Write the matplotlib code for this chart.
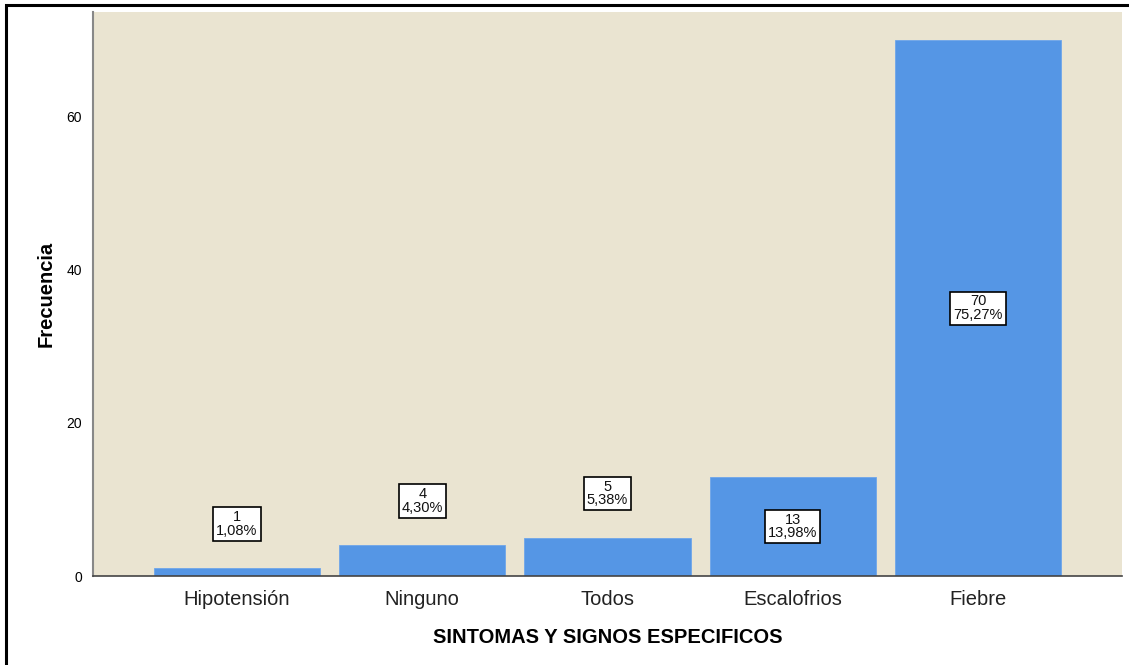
import matplotlib
matplotlib.use("Agg")
import matplotlib.pyplot as plt
from matplotlib.patches import Rectangle

# data
categorias = ["Hipotensión", "Ninguno", "Todos", "Escalofrios", "Fiebre"]
frecuencias = [1, 4, 5, 13, 70]
porcentajes = ["1,08%", "4,30%", "5,38%", "13,98%", "75,27%"]

plt.rcParams['font.family'] = ['Liberation Sans', 'DejaVu Sans']

fig = plt.figure(figsize=(11.29, 6.65), dpi=100)
ax = fig.add_axes([93 / 1129, 89 / 665, (1122 - 93) / 1129, (576 - 12) / 665])

ax.set_facecolor('#EAE4D1')
x = range(len(categorias))
ax.bar(x, frecuencias, width=0.896, color='#5596E5', edgecolor='#6FA6EA', linewidth=0.6, zorder=2)

# etiquetas de las barras
for i, (f, p) in enumerate(zip(frecuencias, porcentajes)):
    if f < 10:
        yl = f + 5.8
    else:
        yl = f / 2
    ax.text(i, yl, "%d\n%s" % (f, p), ha='center', va='center', fontsize=10.5,
            linespacing=0.95, zorder=3, color='#111111',
            bbox=dict(boxstyle='square,pad=0.2', facecolor='white', edgecolor='black', linewidth=1.2))

ax.set_xlim(-0.777, 4.777)
ax.set_ylim(0, 73.7)
ax.set_yticks([0, 20, 40, 60])
ax.set_xticks(list(x))
ax.set_xticklabels(categorias, fontsize=14.5, color='#222222')
ax.tick_params(axis='y', labelsize=10, length=0, pad=8)
ax.tick_params(axis='x', length=0, pad=10)

for s in ['top', 'right']:
    ax.spines[s].set_visible(False)
ax.spines['left'].set_color('#888888')
ax.spines['left'].set_linewidth(1.5)
ax.spines['bottom'].set_color('#444444')
ax.spines['bottom'].set_linewidth(1.2)

ax.set_ylabel('Frecuencia', fontsize=14.5, fontweight='bold', labelpad=8)
ax.set_xlabel('SINTOMAS Y SIGNOS ESPECIFICOS', fontsize=14.5, fontweight='bold', labelpad=14)

# marco exterior
fig.patches.append(Rectangle((6 / 1129, -0.1), 1.2, 1.1 - 5.5 / 665, transform=fig.transFigure,
                             fill=False, edgecolor='black', linewidth=2.2))

fig.savefig('out.png', dpi=100)
